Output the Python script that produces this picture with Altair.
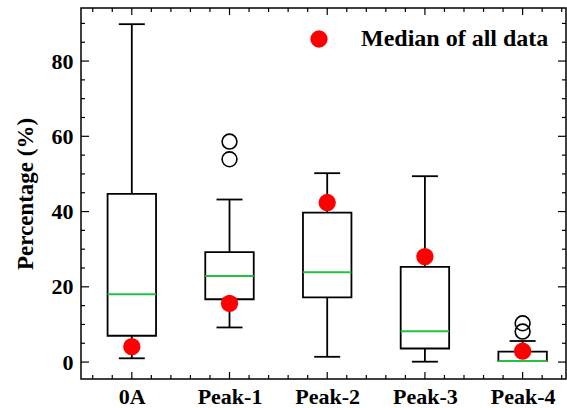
import altair as alt
import pandas as pd

# ---- data ----
categories = ["0A", "Peak-1", "Peak-2", "Peak-3", "Peak-4"]
positions = [1, 2, 3, 4, 5]
whisker_low = [1.0, 9.2, 1.4, 0.1, 0.3]
q1 = [7.0, 16.7, 17.2, 3.6, 0.3]
median = [18.0, 22.9, 23.9, 8.2, 0.3]
q3 = [44.7, 29.2, 39.7, 25.3, 2.8]
whisker_high = [89.8, 43.2, 50.2, 49.4, 5.6]
median_all = [4.1, 15.6, 42.4, 28.0, 2.9]

outlier_pos = [2, 2, 5, 5]
outlier_val = [58.6, 53.9, 10.3, 8.1]

y_major_ticks = [0, 20, 40, 60, 80]
y_minor_ticks = [5, 10, 15, 25, 30, 35, 45, 50, 55, 65, 70, 75, 85, 90]
x_major_ticks = positions
x_minor_ticks = [0.6, 0.8, 1.2, 1.4, 1.6, 1.8, 2.2, 2.4, 2.6, 2.8,
                 3.2, 3.4, 3.6, 3.8, 4.2, 4.4, 4.6, 4.8, 5.2, 5.4]

legend_label = "Median of all data"

# ---- styles ----
W, H = 485, 371
FONT = "Liberation Serif"
GREEN = "#22c043"
BOX_HALF = 0.248
CAP_HALF = 0.133
LW = 1.8

box_df = pd.DataFrame({
    "category": categories, "pos": positions, "low": whisker_low, "q1": q1,
    "median": median, "q3": q3, "high": whisker_high, "median_all": median_all,
})
out_df = pd.DataFrame({"pos": outlier_pos, "value": outlier_val})

x_scale = alt.Scale(domain=[0.48, 5.444], nice=False, zero=False)
y_scale = alt.Scale(domain=[-4.5, 94.1], nice=False, zero=False)

label_expr = "[" + ",".join(f"'{c}'" for c in categories) + "][datum.value - 1]"
x_axis = alt.Axis(values=positions, labelExpr=label_expr, ticks=False, domain=False,
                  grid=False, title=None, labelFont=FONT, labelFontWeight="bold",
                  labelFontSize=22, labelColor="black", labelPadding=7)
y_axis = alt.Axis(values=y_major_ticks, ticks=False, domain=False, grid=False,
                  title="Percentage (%)", titleFont=FONT, titleFontWeight="bold",
                  titleFontSize=23, titleColor="black", titlePadding=14,
                  labelFont=FONT, labelFontWeight="bold", labelFontSize=22,
                  labelColor="black", labelPadding=8)

base = alt.Chart(box_df).transform_calculate(
    xl=f"datum.pos - {BOX_HALF}", xr=f"datum.pos + {BOX_HALF}",
    cl=f"datum.pos - {CAP_HALF}", cr=f"datum.pos + {CAP_HALF}",
    label=f"'{legend_label}'",
)

def X(field):
    return alt.X(field, scale=x_scale, axis=x_axis)

def Y(field):
    return alt.Y(field, scale=y_scale, axis=y_axis)

boxes = base.mark_rect(fill="white", stroke="black", strokeWidth=LW).encode(
    x=X("xl:Q"), x2="xr:Q", y=Y("q1:Q"), y2="q3:Q")
whisk_hi = base.mark_rule(color="black", strokeWidth=LW).encode(
    x=X("pos:Q"), y=Y("q3:Q"), y2="high:Q")
whisk_lo = base.mark_rule(color="black", strokeWidth=LW).encode(
    x=X("pos:Q"), y=Y("low:Q"), y2="q1:Q")
cap_hi = base.mark_rule(color="black", strokeWidth=LW).encode(
    x=X("cl:Q"), x2="cr:Q", y=Y("high:Q"))
cap_lo = base.mark_rule(color="black", strokeWidth=LW).encode(
    x=X("cl:Q"), x2="cr:Q", y=Y("low:Q"))
med = base.mark_rule(color=GREEN, strokeWidth=2).encode(
    x=X("xl:Q"), x2="xr:Q", y=Y("median:Q"))
outliers = alt.Chart(out_df).mark_point(
    shape="circle", filled=False, color="black", strokeWidth=1.6, size=220, opacity=1
).encode(x=X("pos:Q"), y=Y("value:Q"))
red = base.mark_point(shape="circle", filled=True, opacity=1, size=300).encode(
    x=X("pos:Q"), y=Y("median_all:Q"),
    color=alt.Color("label:N", scale=alt.Scale(domain=[legend_label], range=["#ff0000"]),
                    legend=alt.Legend(title=None, orient="none", legendX=226, legendY=19,
                                      labelFont=FONT, labelFontWeight="bold",
                                      labelFontSize=24, labelColor="black",
                                      labelLimit=400,
                                      symbolSize=300, symbolType="circle",
                                      symbolStrokeWidth=0, labelOffset=30, padding=0)))

# inward tick marks on all four sides
def yticks(vals, length):
    df = pd.DataFrame({"v": vals})
    left = alt.Chart(df).mark_rule(color="black", strokeWidth=1.2).encode(
        y=Y("v:Q"), x=alt.value(0), x2=alt.value(length))
    right = alt.Chart(df).mark_rule(color="black", strokeWidth=1.2).encode(
        y=Y("v:Q"), x=alt.value(W), x2=alt.value(W - length))
    return [left, right]

def xticks(vals, length):
    df = pd.DataFrame({"v": vals})
    bottom = alt.Chart(df).mark_rule(color="black", strokeWidth=1.2).encode(
        x=X("v:Q"), y=alt.value(H), y2=alt.value(H - length))
    top = alt.Chart(df).mark_rule(color="black", strokeWidth=1.2).encode(
        x=X("v:Q"), y=alt.value(0), y2=alt.value(length))
    return [bottom, top]

layers = (yticks(y_major_ticks, 8) + yticks(y_minor_ticks, 4)
          + xticks(x_major_ticks, 7) + xticks(x_minor_ticks, 4)
          + [boxes, whisk_hi, whisk_lo, cap_hi, cap_lo, med, outliers, red])

chart = alt.layer(*layers).properties(
    width=W, height=H,
    padding={"left": 81, "top": 8, "right": 1, "bottom": 29},
    autosize=alt.AutoSizeParams(type="none"),
).configure_view(stroke="black", strokeWidth=1.5)

chart.save("out.html", embed_options={"renderer": "svg", "actions": False})
